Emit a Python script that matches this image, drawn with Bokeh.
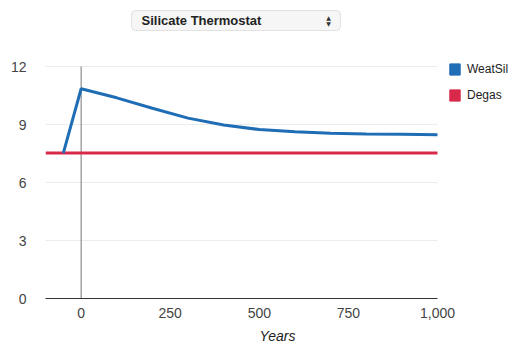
from bokeh.plotting import figure
from bokeh.models import (Range1d, FixedTicker, NumeralTickFormatter, Legend,
                          LegendItem, ColumnDataSource, BoxAnnotation, Label)
from bokeh.embed import file_html
from bokeh.resources import INLINE

# ---- data ----
years = [-50, 0, 100, 200, 300, 400, 500, 600, 700, 800, 900, 1000]
weatsil = [7.52, 10.85, 10.38, 9.84, 9.33, 8.97, 8.74, 8.62, 8.55, 8.51, 8.49, 8.47]
degas_years = [-100, 1000]
degas = [7.52, 7.52]
x_ticks = [0, 250, 500, 750, 1000]
y_ticks = [0, 3, 6, 9, 12]
series_names = ["WeatSil", "Degas"]
selector_text = "Silicate Thermostat"
x_title = "Years"

FONT = "Liberation Sans"
BLUE = "#1f6db5"
RED = "#d9294b"

x_lo, x_hi = degas_years[0], degas_years[-1]
y_hi = y_ticks[-1]

# The plotting frame reaches the right and top edges of the canvas so that the
# legend and the selector (drawn as annotations) are not clipped.
p = figure(width=509, height=346, output_backend="svg", toolbar_location=None,
           x_range=Range1d(x_lo, 1202), y_range=Range1d(0, 15.414),
           min_border_left=45, min_border_right=0, min_border_top=0, min_border_bottom=48)
p.outline_line_color = None
p.background_fill_color = "white"
p.border_fill_color = "white"

p.xaxis.ticker = FixedTicker(ticks=x_ticks)
p.yaxis.ticker = FixedTicker(ticks=y_ticks)
p.xaxis.formatter = NumeralTickFormatter(format="0,0")
for ax in (p.xaxis[0], p.yaxis[0]):
    ax.major_tick_line_color = None
    ax.minor_tick_line_color = None
    ax.major_tick_out = 0
    ax.major_tick_in = 0
    ax.minor_tick_out = 0
    ax.minor_tick_in = 0
    ax.major_label_text_font = FONT
    ax.major_label_text_font_size = "14px"
    ax.major_label_text_color = "#444444"
p.yaxis.axis_line_color = None
p.yaxis.major_label_standoff = 19
p.xaxis.axis_line_color = "#333333"
p.xaxis.bounds = (x_lo, x_hi)
p.xaxis.major_label_standoff = 9
p.xaxis.axis_label = x_title
p.xaxis.axis_label_text_font = FONT
p.xaxis.axis_label_text_font_size = "14px"
p.xaxis.axis_label_text_font_style = "italic"
p.xaxis.axis_label_text_color = "#222222"
p.xaxis.axis_label_standoff = 7

p.xgrid.grid_line_color = None
p.ygrid.grid_line_color = None

# horizontal gridlines over the data area
p.segment(x0=[x_lo] * len(y_ticks), x1=[x_hi] * len(y_ticks), y0=y_ticks, y1=y_ticks,
          line_color="#ececec", line_width=1)
# baseline at x = 0
p.segment(x0=[0], x1=[0], y0=[0], y1=[y_hi], line_color="#777777", line_width=1)

p.line(degas_years, degas, line_color=RED, line_width=3)
p.line(years, weatsil, line_color=BLUE, line_width=3)

# legend with square swatches (swatch renderers hold no drawable point)
nan = float("nan")
sw = ColumnDataSource(dict(l=[nan], r=[nan], t=[nan], b=[nan]))
q1 = p.quad(left="l", right="r", top="t", bottom="b", source=sw,
            fill_color=BLUE, line_color=BLUE)
q2 = p.quad(left="l", right="r", top="t", bottom="b", source=sw,
            fill_color=RED, line_color=RED)
legend = Legend(items=[LegendItem(label=series_names[0], renderers=[q1]),
                       LegendItem(label=series_names[1], renderers=[q2])],
                location=(403, 196), glyph_width=13, glyph_height=14, label_height=14,
                spacing=12, padding=0, margin=0, label_standoff=6,
                label_text_font=FONT, label_text_font_size="12px",
                label_text_color="#222222", border_line_color=None,
                background_fill_alpha=0)
p.add_layout(legend, "center")

# selector drawn as a rounded box with its text
p.add_layout(BoxAnnotation(left=86, right=295, top=288, bottom=268,
                           left_units="screen", right_units="screen",
                           top_units="screen", bottom_units="screen",
                           fill_color="#f6f6f6", fill_alpha=1,
                           line_color="#a8a8a8", line_width=1, border_radius=4))
p.add_layout(Label(x=96, y=278, x_units="screen", y_units="screen", text=selector_text,
                   text_font=FONT, text_font_size="13px", text_font_style="bold",
                   text_color="#222222", text_baseline="middle", text_align="left"))
p.add_layout(Label(x=283, y=281, x_units="screen", y_units="screen", text="▲",
                   text_font="DejaVu Sans", text_font_size="6px",
                   text_color="#333333", text_baseline="middle", text_align="center"))
p.add_layout(Label(x=283, y=275, x_units="screen", y_units="screen", text="▼",
                   text_font="DejaVu Sans", text_font_size="6px",
                   text_color="#333333", text_baseline="middle", text_align="center"))

open("out.html", "w").write(file_html(p, INLINE))
